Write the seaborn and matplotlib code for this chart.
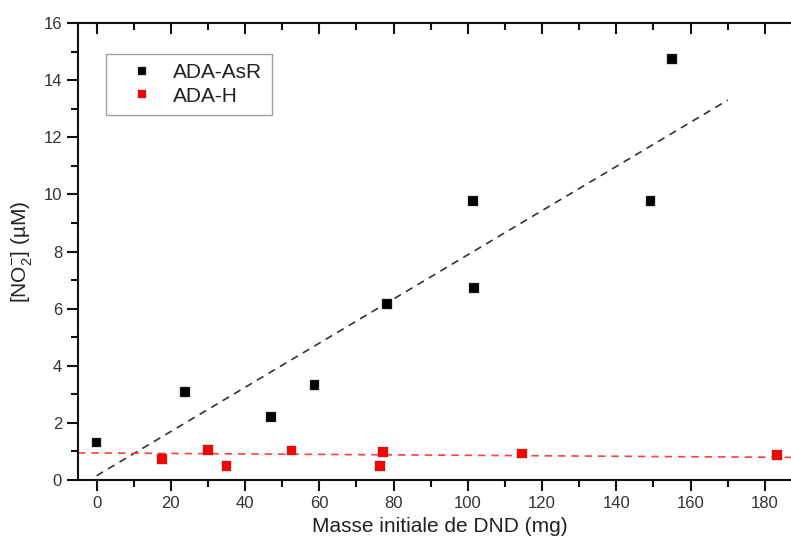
import pandas as pd
import matplotlib.pyplot as plt
from matplotlib.ticker import MultipleLocator
import seaborn as sns

#Data
asr_mass = [0, 23.8, 46.9, 58.7, 78.2, 101.3, 101.7, 149.2, 155.0]
asr_no2 = [1.31, 3.09, 2.22, 3.33, 6.17, 9.77, 6.71, 9.78, 14.73]
h_mass = [17.6, 30.0, 35.0, 52.5, 76.3, 77.1, 114.6, 183.3]
h_no2 = [0.735, 1.05, 0.48, 1.03, 0.5, 0.97, 0.93, 0.875]

#Linear fit lines (end points)
fit_asr_x = [0, 170]
fit_asr_y = [0.15, 13.3]
fit_h_x = [-5, 190]
fit_h_y = [0.95, 0.79]

series_names = ['ADA-AsR', 'ADA-H']
series_colors = ['black', '#ff0000']

df = pd.concat([
    pd.DataFrame({'mass': asr_mass, 'no2': asr_no2, 'sample': series_names[0]}),
    pd.DataFrame({'mass': h_mass, 'no2': h_no2, 'sample': series_names[1]}),
])

sns.set_theme(style='white')
plt.rcParams['font.family'] = ['Liberation Sans', 'DejaVu Sans']
plt.rcParams['mathtext.fontset'] = 'custom'
plt.rcParams['mathtext.rm'] = 'Liberation Sans'
plt.rcParams['text.color'] = '#222222'
plt.rcParams['axes.labelcolor'] = '#222222'

fig = plt.figure(figsize=(7.91, 5.46), dpi=100)
#right spine sits just past the image edge, like the cropped original
ax = fig.add_axes([78 / 791, 66 / 546, 724 / 791, 457 / 546])

#Fit lines
sns.lineplot(x=fit_asr_x, y=fit_asr_y, ax=ax, color='#333333', lw=1.2,
             linestyle=(0, (4.5, 3.5)), legend=False)
sns.lineplot(x=fit_h_x, y=fit_h_y, ax=ax, color='#ff4040', lw=1.2,
             linestyle=(0, (4.5, 3.5)), legend=False)

#Scatter points
sns.scatterplot(data=df, x='mass', y='no2', hue='sample', hue_order=series_names,
                palette=series_colors, marker='s', s=50, linewidth=0.3,
                edgecolor='#555555', ax=ax, zorder=3)

ax.set(xlim=(-5, 190), ylim=(0, 16))
ax.set_xlabel('Masse initiale de DND (mg)', fontsize=15, labelpad=4)
ax.set_ylabel(r'[NO$_{\mathregular{2}}^{\mathregular{-}}$] (µM)', fontsize=15, labelpad=6.5)

ax.xaxis.set_major_locator(MultipleLocator(20))
ax.xaxis.set_minor_locator(MultipleLocator(10))
ax.yaxis.set_major_locator(MultipleLocator(2))
ax.yaxis.set_minor_locator(MultipleLocator(1))
ax.tick_params(which='major', direction='out', length=8, width=1.5,
               labelsize=12, labelcolor='#333333', color='#111111',
               bottom=True, left=True, top=False, right=False)
ax.tick_params(which='minor', direction='out', length=5, width=1.5,
               color='#111111', bottom=True, left=True, top=False, right=False)
for sp in ax.spines.values():
    sp.set_linewidth(1.5)
    sp.set_color('#111111')

#Inward ticks on top and right
secx = ax.secondary_xaxis('top')
secx.xaxis.set_major_locator(MultipleLocator(20))
secx.xaxis.set_minor_locator(MultipleLocator(10))
secx.tick_params(which='major', direction='in', length=8, width=1.5, labeltop=False, color='#111111')
secx.tick_params(which='minor', direction='in', length=5, width=1.5, color='#111111')
secx.spines['top'].set_visible(False)
secy = ax.secondary_yaxis('right')
secy.yaxis.set_major_locator(MultipleLocator(2))
secy.yaxis.set_minor_locator(MultipleLocator(1))
secy.tick_params(which='major', direction='in', length=8, width=1.5, labelright=False, color='#111111')
secy.tick_params(which='minor', direction='in', length=5, width=1.5, color='#111111')
secy.spines['right'].set_visible(False)

#Legend
handles, labels = ax.get_legend_handles_labels()
leg = ax.legend(handles, labels, loc='upper left', bbox_to_anchor=(0.038, 0.932),
                fontsize=15, frameon=True, fancybox=False, borderpad=0.45,
                handletextpad=0.15, markerscale=0.8, labelspacing=0.2,
                borderaxespad=0, handlelength=2.65)
leg.get_frame().set_edgecolor('#888888')
leg.get_frame().set_linewidth(1.0)

fig.savefig('out.png', dpi=100)
